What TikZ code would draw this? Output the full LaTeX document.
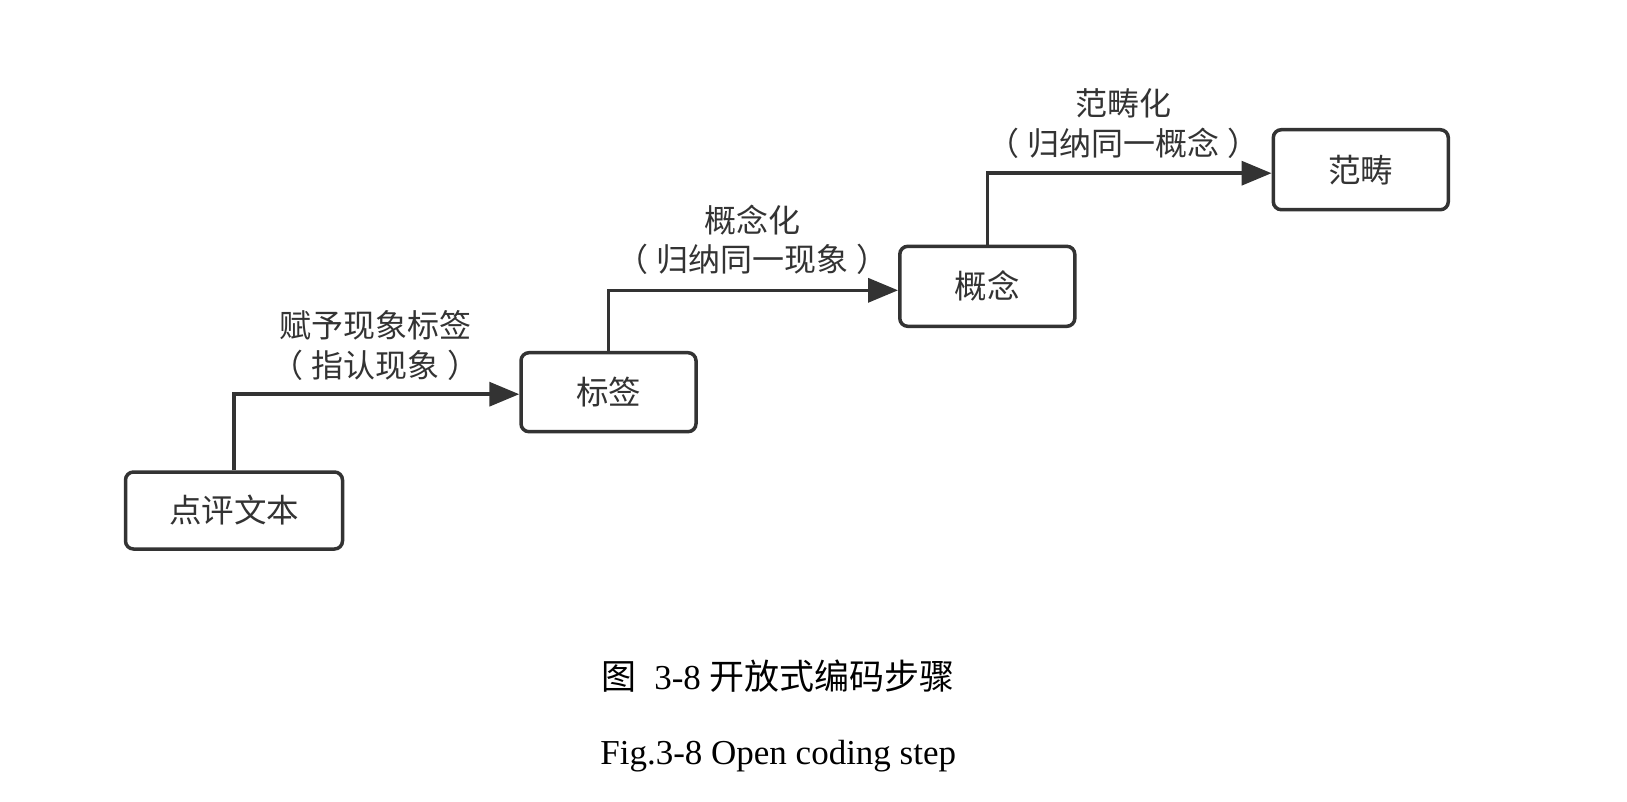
\documentclass[tikz,border=0pt]{standalone}
\usepackage{fontspec}
\setmainfont{Liberation Serif}
\newfontfamily\cjk{Noto Sans CJK SC}
\usetikzlibrary{arrows.meta}
\definecolor{ink}{HTML}{333333}
\tikzset{
  box/.style={draw=ink, line width=3.5pt, rounded corners=8pt, fill=white,
    font=\cjk\fontsize{32.5}{38}\selectfont, text=ink, inner sep=0pt},
  conn/.style={draw=ink, line width=3.5pt, -{Triangle[length=30pt,width=24pt]}},
  lbl/.style={font=\cjk\fontsize{32}{39.5}\selectfont, text=ink, align=center, inner sep=0pt},
  captext/.style={font=\fontsize{35}{40}\selectfont, text=black, inner sep=0pt}
}
\begin{document}
\begin{tikzpicture}[x=1pt,y=-1pt]
\useasboundingbox (0,0) rectangle (1627,801);
\node[box, minimum width=217pt, minimum height=77pt] (A) at (234,510.5) {点评文本};
\node[box, minimum width=175pt, minimum height=79pt] (B) at (608.5,392.2) {标签};
\node[box, minimum width=175pt, minimum height=80pt] (C) at (987.3,286.3) {概念};
\node[box, minimum width=175pt, minimum height=80pt] (D) at (1360.8,169.7) {范畴};
\draw[conn] (A.north) |- ([yshift=-2pt]B.west);
\draw[conn] (B.north) |- ([yshift=-4pt]C.west);
\draw[conn] (C.north) |- ([yshift=-3.5pt]D.west);
\node[lbl] (L1) at (375.6,345.5) {赋予现象标签\\（\hspace{0.25em}指认现象\hspace{0.25em}）};
\node[lbl] (L2) at (752.3,239.7) {概念化\\（\hspace{0.25em}归纳同一现象\hspace{0.25em}）};
\node[lbl] (L3) at (1123.7,123.5) {范畴化\\（\hspace{0.25em}归纳同一概念\hspace{0.25em}）};
\node[captext] (T1) at (778.2,676.5) {{\cjk 图}\hspace{0.5em}3-8 {\cjk 开放式编码步骤}};
\node[captext] (T2) at (778.2,756.4) {Fig.3-8 Open coding step};
\end{tikzpicture}
\end{document}
